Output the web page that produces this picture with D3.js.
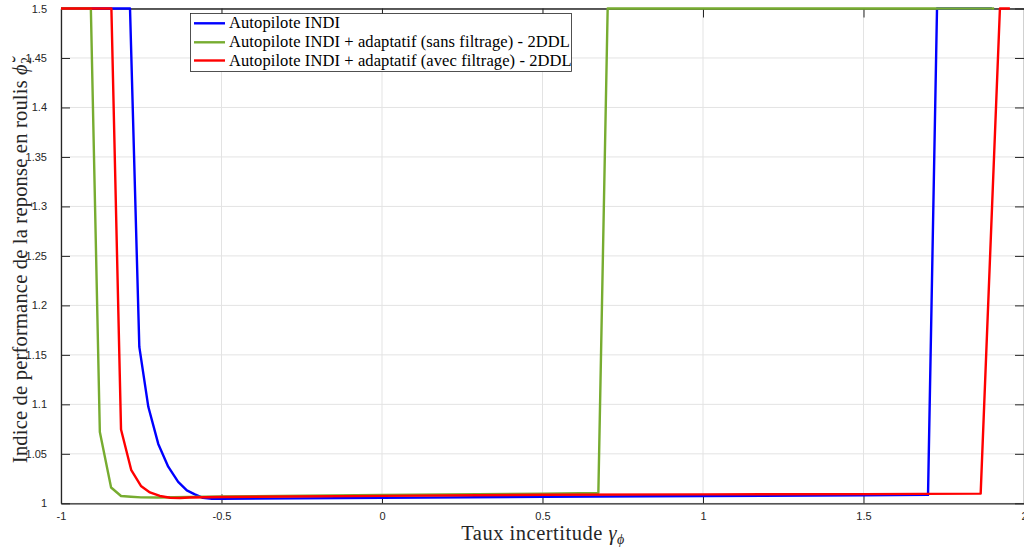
<!DOCTYPE html>
<html>
<head>
<meta charset="utf-8">
<script src="https://cdn.jsdelivr.net/npm/d3@7"></script>
<style>
  html, body { margin: 0; padding: 0; background: #fff; }
  svg { display: block; }
</style>
</head>
<body>
<svg id="chart" width="1024" height="547"></svg>
<script>
// ---- data ----
const xTicks = [-1, -0.5, 0, 0.5, 1, 1.5, 2];
const xTickLabels = ["-1", "-0.5", "0", "0.5", "1", "1.5", "2"];
const yTicks = [1, 1.05, 1.1, 1.15, 1.2, 1.25, 1.3, 1.35, 1.4, 1.45, 1.5];
const yTickLabels = ["1", "1.05", "1.1", "1.15", "1.2", "1.25", "1.3", "1.35", "1.4", "1.45", "1.5"];

const seriesNames = [
  "Autopilote INDI",
  "Autopilote INDI + adaptatif (sans filtrage) - 2DDL",
  "Autopilote INDI + adaptatif (avec filtrage) - 2DDL"
];
const seriesColors = ["#0000ff", "#77ac30", "#ff0000"];

const blueX = [-1, -0.785, -0.756, -0.728, -0.697, -0.666, -0.635, -0.608, -0.583, -0.558, -0.53, -0.5, 0, 0.5, 1, 1.5, 1.701, 1.729, 1.9];
const blueY = [1.5, 1.5, 1.158, 1.0975, 1.060, 1.037, 1.0216, 1.013, 1.009, 1.0055, 1.0045, 1.0045, 1.0055, 1.0066, 1.0074, 1.008, 1.0085, 1.5, 1.5];

const greenX = [-1, -0.907, -0.879, -0.844, -0.813, -0.782, -0.751, -0.7, -0.5, 0, 0.5, 0.674, 0.703, 1.907];
const greenY = [1.5, 1.5, 1.072, 1.016, 1.0074, 1.0066, 1.006, 1.0058, 1.0068, 1.0085, 1.0098, 1.0105, 1.5, 1.5];

const redX = [-1, -0.843, -0.813, -0.781, -0.751, -0.723, -0.692, -0.660, -0.629, -0.6, -0.5, 0, 0.5, 1, 1.5, 1.865, 1.925, 1.956];
const redY = [1.5, 1.5, 1.0746, 1.0334, 1.0175, 1.011, 1.0074, 1.0056, 1.0054, 1.0058, 1.0064, 1.0075, 1.0087, 1.009, 1.0093, 1.0098, 1.5, 1.5];

// ---- layout ----
const svg = d3.select("#chart");
const L = 61, R = 1024, T = 8.5, B = 503.3;
const x = d3.scaleLinear().domain([-1, 2]).range([L, R]);
const y = d3.scaleLinear().domain([1, 1.5]).range([B, T]);
const axisColor = "#262626";

// grid
const g = svg.append("g");
g.selectAll("line.gx").data(xTicks).join("line")
  .attr("x1", d => x(d)).attr("x2", d => x(d))
  .attr("y1", T).attr("y2", B)
  .attr("stroke", "#e3e3e3").attr("stroke-width", 1);
g.selectAll("line.gy").data(yTicks).join("line")
  .attr("x1", L).attr("x2", R)
  .attr("y1", d => y(d)).attr("y2", d => y(d))
  .attr("stroke", "#e3e3e3").attr("stroke-width", 1);

// axes
const xAxis = d3.axisBottom(x).tickValues(xTicks).tickFormat((d, i) => xTickLabels[i]).tickSizeInner(-9).tickSizeOuter(0).tickPadding(9);
const yAxis = d3.axisLeft(y).tickValues(yTicks).tickFormat((d, i) => yTickLabels[i]).tickSizeInner(-9).tickSizeOuter(0).tickPadding(14);
const xTop = d3.axisTop(x).tickValues(xTicks).tickFormat("").tickSizeInner(-9).tickSizeOuter(0);
const yRight = d3.axisRight(y).tickValues(yTicks).tickFormat("").tickSizeInner(-9).tickSizeOuter(0);

function styleAxis(sel) {
  sel.select(".domain").attr("stroke", axisColor).attr("stroke-width", 1.3);
  sel.selectAll(".tick line").attr("stroke", axisColor).attr("stroke-width", 1);
  sel.selectAll(".tick text").attr("fill", axisColor)
    .style("font-family", "'Liberation Sans', Arial, sans-serif").style("font-size", "11px");
}
svg.append("g").attr("transform", `translate(0,${B})`).call(xAxis).call(styleAxis);
svg.append("g").attr("transform", `translate(${L},0)`).call(yAxis).call(styleAxis);
svg.append("g").attr("transform", `translate(0,${T})`).call(xTop).call(styleAxis);
svg.append("g").attr("transform", `translate(${R},0)`).call(yRight).call(styleAxis);
svg.selectAll(".tick text").attr("font-size", null);

// lines
const series = [
  { xs: blueX, ys: blueY },
  { xs: greenX, ys: greenY },
  { xs: redX, ys: redY }
];
const line = d3.line().x(d => x(d[0])).y(d => y(d[1]));
series.forEach((s, i) => {
  const pts = s.xs.map((v, k) => [v, s.ys[k]]);
  svg.append("path").datum(pts)
    .attr("d", line)
    .attr("fill", "none")
    .attr("stroke", seriesColors[i])
    .attr("stroke-width", 2.4)
    .attr("stroke-linejoin", "round");
});

// legend
const serif = "'Liberation Serif', 'DejaVu Serif', serif";
const lg = svg.append("g");
lg.append("rect").attr("x", 190.5).attr("y", 13.5).attr("width", 381).attr("height", 58)
  .attr("fill", "#fff").attr("stroke", axisColor).attr("stroke-width", 0.8);
const rowsY = [23.3, 42.3, 60.5];
seriesNames.forEach((name, i) => {
  lg.append("line").attr("x1", 194).attr("x2", 225).attr("y1", rowsY[i]).attr("y2", rowsY[i])
    .attr("stroke", seriesColors[i]).attr("stroke-width", 2.4);
  lg.append("text").attr("x", 229).attr("y", rowsY[i] + 5)
    .style("font-family", serif).style("font-size", "16.5px").style("letter-spacing", "0.1px").attr("fill", "#000")
    .text(name);
});

// axis labels
const xl = svg.append("text").attr("x", 543).attr("y", 540).attr("text-anchor", "middle")
  .style("font-family", serif).style("font-size", "20.5px").style("letter-spacing", "0.5px").attr("fill", "#262626");
xl.append("tspan").text("Taux incertitude ");
xl.append("tspan").style("font-style", "italic").text("γ");
xl.append("tspan").attr("dy", 4).style("font-size", "14px").style("font-style", "italic").text("ϕ");

const yl = svg.append("text").attr("transform", "translate(27,260) rotate(-90)").attr("text-anchor", "middle")
  .style("font-family", serif).style("font-size", "20.5px").style("letter-spacing", "0.2px").attr("fill", "#262626");
yl.append("tspan").text("Indice de performance de la reponse en roulis ");
yl.append("tspan").style("font-style", "italic").text("ϕ\u0306");
yl.append("tspan").attr("dy", 4).style("font-size", "14px").text("2");
</script>
</body>
</html>
